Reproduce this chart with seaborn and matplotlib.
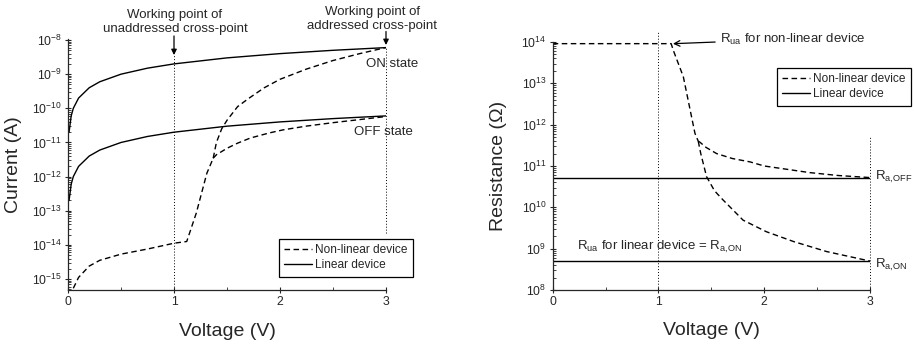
import numpy as np
import matplotlib
matplotlib.use("Agg")
import matplotlib.pyplot as plt
from matplotlib.ticker import AutoMinorLocator, LogLocator, NullFormatter
import seaborn as sns

# ---- data ----
# left panel: current vs voltage
v_lin = [0.01, 0.03, 0.05, 0.1, 0.2, 0.3, 0.5, 0.75, 1.0, 1.5, 2.0, 2.5, 3.0]
i_lin_on = [2e-11, 6e-11, 1e-10, 2e-10, 4e-10, 6e-10, 1e-9, 1.5e-9, 2e-9, 3e-9, 4e-9, 5e-9, 6e-9]
i_lin_off = [2e-13, 6e-13, 1e-12, 2e-12, 4e-12, 6e-12, 1e-11, 1.5e-11, 2e-11, 3e-11, 4e-11, 5e-11, 6e-11]

v_nl_low = [0.05, 0.1, 0.2, 0.3, 0.5, 0.75, 1.0, 1.12, 1.21, 1.31, 1.37]
logi_nl_low = [-15.27, -14.95, -14.62, -14.45, -14.27, -14.12, -13.95, -13.9, -13.07, -11.9, -11.46]
v_nl_on = [1.40, 1.45, 1.5, 1.6, 1.7, 1.85, 2.0, 2.25, 2.5, 2.75, 3.0]
logi_nl_on = [-11.0, -10.6, -10.35, -9.95, -9.72, -9.4, -9.15, -8.85, -8.6, -8.4, -8.22]
v_nl_off = [1.40, 1.5, 1.6, 1.72, 1.9, 2.03, 2.25, 2.5, 2.75, 3.0]
logi_nl_off = [-11.36, -11.17, -11.02, -10.87, -10.72, -10.63, -10.52, -10.42, -10.33, -10.24]

# right panel: resistance vs voltage
v_r_lin = [0.0, 0.5, 1.0, 1.5, 2.0, 2.5, 3.0]
r_lin_off = [5.2e10] * 7
r_lin_on = [5e8] * 7

v_r_high = [0.0, 0.25, 0.5, 0.75, 1.0, 1.12, 1.14, 1.235, 1.30, 1.345, 1.376]
logr_high = [13.96, 13.96, 13.96, 13.96, 13.96, 13.96, 13.8, 13.16, 12.35, 11.79, 11.6]
v_r_on = [1.40, 1.455, 1.53, 1.61, 1.676, 1.80, 2.02, 2.28, 2.59, 3.0]
logr_on = [11.3, 10.74, 10.4, 10.18, 10.01, 9.69, 9.41, 9.17, 8.93, 8.70]
v_r_off = [1.39, 1.45, 1.55, 1.70, 1.865, 2.0, 2.43, 2.7, 3.0]
logr_off = [11.58, 11.45, 11.30, 11.18, 11.10, 11.0, 10.84, 10.77, 10.72]

working_points = [1.0, 3.0]
x_ticks = [0, 1, 2, 3]
i_tick_exp = [-15, -14, -13, -12, -11, -10, -9, -8]
r_tick_exp = [8, 9, 10, 11, 12, 13, 14]

sns.set_style("ticks")
plt.rcParams["font.family"] = ["Liberation Sans", "DejaVu Sans"]
plt.rcParams["mathtext.fontset"] = "custom"
plt.rcParams["mathtext.rm"] = "Liberation Sans"
plt.rcParams["mathtext.it"] = "Liberation Sans:italic"
plt.rcParams["mathtext.bf"] = "Liberation Sans:bold"

DASH = (0, (4, 2.5))
LW = 1.0
FS_TXT = 9.5
FS_LEG = 8.6

fig = plt.figure(figsize=(9.14, 3.46), dpi=100)
ax1 = fig.add_axes([68 / 914, 1 - 290 / 346, 318 / 914, 251 / 346])
ax2 = fig.add_axes([552.7 / 914, 1 - 290 / 346, 317.3 / 914, 248 / 346])


def nl(v, logs, ax, label=None):
    sns.lineplot(x=v, y=10 ** np.array(logs), ax=ax, color="k", lw=LW,
                 linestyle=DASH, errorbar=None, label=label, legend=False)


def lin(v, vals, ax, label=None):
    sns.lineplot(x=v, y=vals, ax=ax, color="k", lw=LW, errorbar=None,
                 label=label, legend=False)


# ---- left panel ----
nl(v_nl_low, logi_nl_low, ax1, "Non-linear device")
nl([v_nl_low[-1]] + v_nl_on, [logi_nl_low[-1]] + logi_nl_on, ax1)
nl([v_nl_low[-1]] + v_nl_off, [logi_nl_low[-1]] + logi_nl_off, ax1)
lin(v_lin, i_lin_on, ax1, "Linear device")
lin(v_lin, i_lin_off, ax1)

# ---- right panel ----
nl(v_r_high, logr_high, ax2, "Non-linear device")
nl([v_r_high[-1]] + v_r_on, [logr_high[-1]] + logr_on, ax2)
nl([v_r_high[-1]] + v_r_off, [logr_high[-1]] + logr_off, ax2)
lin(v_r_lin, r_lin_off, ax2, "Linear device")
lin(v_r_lin, r_lin_on, ax2)

for ax, exps in ((ax1, i_tick_exp), (ax2, r_tick_exp)):
    ax.set_yscale("log")
    ax.set_xlim(0, 3)
    ax.set_xticks(x_ticks)
    ax.xaxis.set_minor_locator(AutoMinorLocator(2))
    ax.set_yticks([10.0 ** e for e in exps])
    ax.yaxis.set_minor_locator(LogLocator(base=10, subs=np.arange(2, 10), numticks=20))
    ax.yaxis.set_minor_formatter(NullFormatter())
    ax.tick_params(which="major", direction="inout", length=5, width=0.8,
                   labelsize=8.8, pad=2)
    ax.tick_params(which="minor", direction="in", length=2.5, width=0.6)
    sns.despine(ax=ax)
    for s in ("left", "bottom"):
        ax.spines[s].set_linewidth(0.9)
    ax.set_xlabel("Voltage (V)", fontsize=14)
    ax.xaxis.set_label_coords(0.5, -0.13)

ax1.set_ylim(10 ** -15.32, 10 ** -7.97)
ax2.set_ylim(1e8, 1e14)
ax1.set_ylabel("Current (A)", fontsize=14)
ax2.set_ylabel("Resistance (\u03a9)", fontsize=14)
ax1.yaxis.set_label_coords(-0.145, 0.5)
ax2.yaxis.set_label_coords(-0.145, 0.5)

dot = dict(color="k", lw=0.7, linestyle=(0, (1, 2)), clip_on=False)
ax1.axvline(working_points[0], ymin=0, ymax=0.936, **dot)
ax1.axvline(working_points[1], ymin=0.227, ymax=0.964, **dot)
ax2.axvline(working_points[0], ymin=0, ymax=1.044, **dot)
ax2.axvline(working_points[1], ymin=0, ymax=0.617, **dot)

# ---- annotations ----
tx1 = ax1.get_xaxis_transform()
arrow = dict(arrowstyle="-|>", color="k", lw=0.9, mutation_scale=8,
             shrinkA=0, shrinkB=0)
ax1.annotate("", xy=(working_points[0], 0.936), xycoords=tx1,
             xytext=(working_points[0], 1.012), textcoords=tx1, arrowprops=arrow)
ax1.annotate("", xy=(working_points[1], 0.976), xycoords=tx1,
             xytext=(working_points[1], 1.03), textcoords=tx1, arrowprops=arrow)
ax1.text(1.01, 1.068, "Working point of\nunaddressed cross-point", transform=tx1,
         ha="center", va="center", fontsize=FS_TXT, linespacing=1.3)
ax1.text(2.87, 1.08, "Working point of\naddressed cross-point", transform=tx1,
         ha="center", va="center", fontsize=FS_TXT, linespacing=1.2)
ax1.text(3.057, 0.90, "ON state", transform=tx1, ha="center", va="center",
         fontsize=FS_TXT)
ax1.text(2.972, 0.629, "OFF state", transform=tx1, ha="center", va="center",
         fontsize=FS_TXT)

tx2 = ax2.get_xaxis_transform()
ax2.annotate(r"R$_{\mathrm{ua}}$ for non-linear device", xy=(1.137, 9.1e13),
             xytext=(1.58, 1.012), textcoords=tx2, ha="left", va="center",
             fontsize=FS_TXT, annotation_clip=False,
             arrowprops=dict(arrowstyle="->", color="k", lw=0.9,
                             shrinkA=1, shrinkB=0, mutation_scale=10))
ax2.text(0.227, 0.161, r"R$_{\mathrm{ua}}$ for linear device = R$_{\mathrm{a{,}ON}}$",
         transform=tx2, ha="left", va="baseline", fontsize=FS_TXT)
ax2.text(3.046, 0.4435, r"R$_{\mathrm{a{,}OFF}}$", transform=tx2, ha="left",
         va="baseline", fontsize=FS_TXT)
ax2.text(3.046, 0.0887, r"R$_{\mathrm{a{,}ON}}$", transform=tx2, ha="left",
         va="baseline", fontsize=FS_TXT)

# ---- legends ----
leg_kw = dict(loc="upper left", bbox_transform=fig.transFigure, frameon=True,
              fancybox=False, edgecolor="k", framealpha=1, fontsize=FS_LEG,
              handlelength=2.3, handletextpad=0.3, borderaxespad=0,
              borderpad=0.45, labelspacing=0.25)
for ax, anchor in ((ax1, (279 / 914, 1 - 239 / 346)), (ax2, (777 / 914, 1 - 68 / 346))):
    leg = ax.legend(bbox_to_anchor=anchor, **leg_kw)
    leg.get_frame().set_linewidth(0.9)

fig.savefig("out.png", dpi=100)
